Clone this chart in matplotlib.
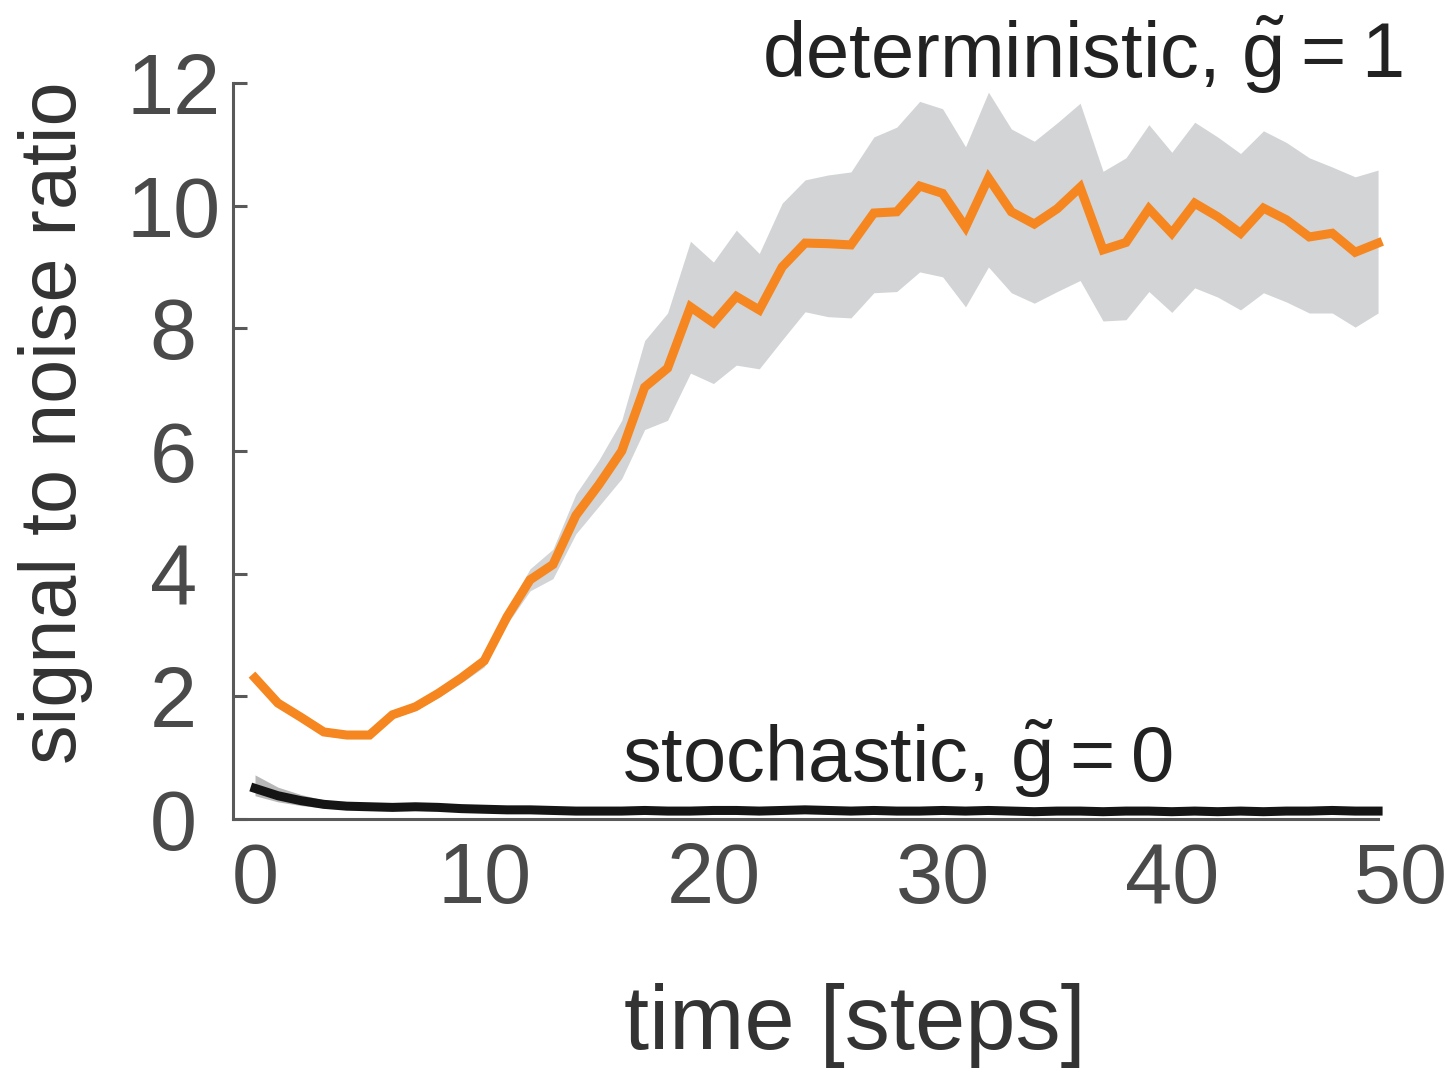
import matplotlib
matplotlib.use("Agg")
import matplotlib.pyplot as plt
import numpy as np

plt.rcParams['font.family'] = ['Liberation Sans', 'DejaVu Sans']
plt.rcParams['mathtext.fontset'] = 'custom'
plt.rcParams['mathtext.rm'] = 'Liberation Sans'
plt.rcParams['mathtext.it'] = 'Liberation Sans:italic'
plt.rcParams['mathtext.bf'] = 'Liberation Sans:bold'

# time steps
t = list(range(50))

# deterministic (g~ = 1): mean and shaded band
det_mean = [2.30, 1.89, 1.66, 1.42, 1.37, 1.37, 1.70, 1.83, 2.05, 2.30,
            2.58, 3.30, 3.90, 4.15, 4.95, 5.45, 6.00, 7.04, 7.35, 8.35,
            8.09, 8.52, 8.30, 9.00, 9.39, 9.38, 9.36, 9.88, 9.90, 10.32,
            10.20, 9.65, 10.45, 9.90, 9.70, 9.95, 10.30, 9.28, 9.40, 9.95,
            9.55, 10.04, 9.82, 9.55, 9.96, 9.77, 9.49, 9.55, 9.24, 9.39]
det_upper = [2.36, 1.95, 1.72, 1.48, 1.43, 1.43, 1.76, 1.90, 2.12, 2.38,
             2.68, 3.42, 4.08, 4.40, 5.30, 5.85, 6.50, 7.80, 8.25, 9.42,
             9.08, 9.60, 9.22, 10.04, 10.42, 10.50, 10.55, 11.12, 11.28, 11.70,
             11.58, 10.96, 11.85, 11.25, 11.05, 11.35, 11.67, 10.56, 10.78, 11.32,
             10.87, 11.36, 11.12, 10.85, 11.22, 11.03, 10.78, 10.63, 10.47, 10.58]
det_lower = [2.24, 1.83, 1.60, 1.36, 1.31, 1.31, 1.64, 1.77, 1.98, 2.22,
             2.48, 3.18, 3.72, 3.92, 4.65, 5.10, 5.55, 6.35, 6.50, 7.27,
             7.10, 7.40, 7.34, 7.81, 8.27, 8.19, 8.17, 8.58, 8.60, 8.92,
             8.84, 8.35, 9.00, 8.58, 8.41, 8.60, 8.78, 8.12, 8.14, 8.60,
             8.26, 8.66, 8.51, 8.30, 8.58, 8.43, 8.25, 8.25, 8.02, 8.25]

# stochastic (g~ = 0): mean and shaded band
sto_mean = [0.50, 0.38, 0.30, 0.24, 0.21, 0.20, 0.19, 0.20, 0.19, 0.17,
            0.16, 0.15, 0.15, 0.14, 0.13, 0.13, 0.13, 0.14, 0.13, 0.13,
            0.14, 0.14, 0.13, 0.14, 0.15, 0.14, 0.13, 0.14, 0.13, 0.13,
            0.14, 0.13, 0.14, 0.13, 0.12, 0.13, 0.13, 0.12, 0.13, 0.13,
            0.12, 0.13, 0.12, 0.13, 0.12, 0.13, 0.13, 0.14, 0.13, 0.13]
sto_upper = [0.72, 0.52, 0.40, 0.31, 0.27, 0.25, 0.24, 0.25, 0.24, 0.22,
             0.21, 0.20, 0.20, 0.19, 0.18, 0.18, 0.18, 0.19, 0.18, 0.18,
             0.19, 0.19, 0.18, 0.19, 0.20, 0.19, 0.18, 0.19, 0.18, 0.18,
             0.19, 0.18, 0.19, 0.18, 0.17, 0.18, 0.18, 0.17, 0.18, 0.18,
             0.17, 0.18, 0.17, 0.18, 0.17, 0.18, 0.18, 0.19, 0.18, 0.18]
sto_lower = [0.38, 0.28, 0.22, 0.18, 0.16, 0.15, 0.14, 0.15, 0.14, 0.12,
             0.11, 0.10, 0.10, 0.09, 0.08, 0.08, 0.08, 0.09, 0.08, 0.08,
             0.09, 0.09, 0.08, 0.09, 0.10, 0.09, 0.08, 0.09, 0.08, 0.08,
             0.09, 0.08, 0.09, 0.08, 0.07, 0.08, 0.08, 0.07, 0.08, 0.08,
             0.07, 0.08, 0.07, 0.08, 0.07, 0.08, 0.08, 0.09, 0.08, 0.08]

xticks = [0, 10, 20, 30, 40, 50]
yticks = [0, 2, 4, 6, 8, 10, 12]

ORANGE = '#f6861f'
BAND = '#d2d4d6'
AXC = '#595959'
TXT = '#4a4a4a'

fig = plt.figure(figsize=(14.5, 10.68), dpi=100)
ax = fig.add_axes([0.1607, 0.2331, 0.9662 - 0.1607, 0.9223 - 0.2331])

ax.fill_between(t, det_lower, det_upper, color=BAND, lw=0, zorder=1)
ax.fill_between(t, sto_lower, sto_upper, color='#b8b8b8', lw=0, zorder=1)
ax.plot(t, det_mean, color=ORANGE, lw=6.5, solid_joinstyle='miter', zorder=3)
ax.plot(t, sto_mean, color='#151515', lw=6.5, zorder=3)

ax.set_xlim(-0.96, 50)
ax.set_ylim(0, 12)
for s in ['top', 'right']:
    ax.spines[s].set_visible(False)
ax.spines['bottom'].set_bounds(-0.96, 49)
for s in ['left', 'bottom']:
    ax.spines[s].set_color(AXC)
    ax.spines[s].set_linewidth(2.2)
    ax.spines[s].set_zorder(2)

ax.set_xticks(xticks)
ax.set_yticks(yticks)
ax.set_xticklabels([str(v) for v in xticks])
ax.set_yticklabels([str(v) for v in yticks])
ax.tick_params(axis='y', direction='in', length=10, width=2.2, color=AXC,
               labelsize=61, labelcolor=TXT, pad=43)
ax.tick_params(axis='x', direction='in', length=0, labelsize=61,
               labelcolor=TXT, pad=16)
for lab in ax.get_yticklabels():
    lab.set_horizontalalignment('center')

ax.set_xlabel('time [steps]', fontsize=65, color='#333333')
ax.xaxis.set_label_coords(0.5325, -0.28)
ax.xaxis.label.set_verticalalignment('center')
ax.set_ylabel('signal to noise ratio', fontsize=57, color='#333333')
ax.yaxis.set_label_coords(-0.152, 0.539)
ax.yaxis.label.set_verticalalignment('center')

ax.text(22.1, 12.08, 'deterministic, $\\tilde{\\mathrm{g}}$\u2009=\u20091', fontsize=56,
        color='#222222', ha='left', va='baseline', clip_on=False)
ax.text(16.0, 0.6, 'stochastic, $\\tilde{\\mathrm{g}}$\u2009=\u20090', fontsize=56,
        color='#222222', ha='left', va='baseline', clip_on=False)

fig.savefig('out.png', dpi=100)
